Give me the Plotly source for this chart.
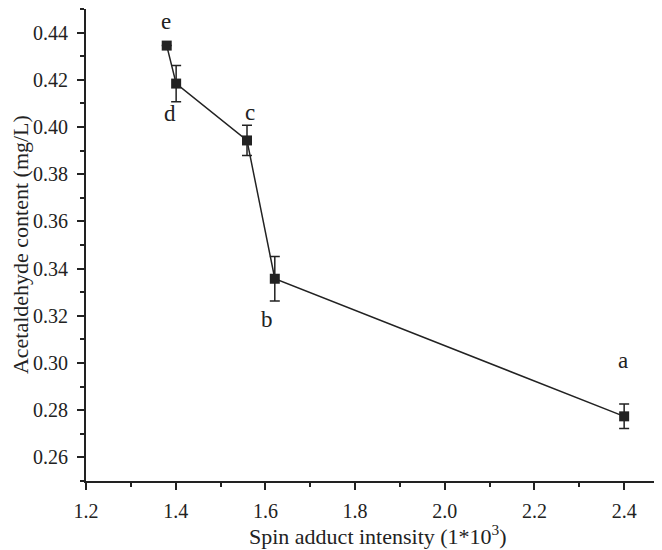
import plotly.graph_objects as go

# spin adduct intensity (1*10^3)
spin = [1.380, 1.401, 1.559, 1.621, 2.400]
# acetaldehyde content (mg/L)
acet = [0.4345, 0.4184, 0.3943, 0.3357, 0.2774]
acet_err = [0.0, 0.0077, 0.0064, 0.0094, 0.0052]
labels = ['e', 'd', 'c', 'b', 'a']

INK = '#222222'
FONT = 'Liberation Serif'

fig = go.Figure()
fig.add_trace(go.Scatter(
    x=spin,
    y=acet,
    mode='lines+markers',
    line=dict(color=INK, width=1.5),
    marker=dict(symbol='square', size=10, color=INK),
    error_y=dict(type='data', array=acet_err, visible=True,
                 color=INK, thickness=1.5, width=5),
    showlegend=False,
))

# letter labels: (dx, dy) offsets in px
offsets = [(-1, 24), (-6, -30), (3, 28), (-8, -41), (-1, 56)]
for x, y, t, (dx, dy) in zip(spin, acet, labels, offsets):
    fig.add_annotation(
        x=x, y=y, text=t, showarrow=False,
        xshift=dx, yshift=dy,
        font=dict(family=FONT, size=23, color=INK),
    )

# axis titles placed as paper annotations for tight control
fig.add_annotation(
    xref='paper', yref='paper', x=0.5, y=-0.082,
    xanchor='center', yanchor='top', showarrow=False,
    borderpad=0,
    text='Spin adduct intensity (1*10<sup>3</sup>)',
    font=dict(family=FONT, size=22, color=INK),
)
fig.add_annotation(
    xref='paper', yref='paper', x=-0.113, y=0.5,
    xanchor='center', yanchor='middle', showarrow=False,
    borderpad=0,
    textangle=-90,
    text='Acetaldehyde content (mg/L)',
    font=dict(family=FONT, size=22, color=INK),
)

axis_common = dict(
    showline=True,
    linecolor=INK,
    linewidth=2,
    ticks='outside',
    ticklen=7,
    tickwidth=2,
    tickcolor=INK,
    showgrid=False,
    zeroline=False,
    mirror=False,
    tickfont=dict(family=FONT, size=20, color=INK),
    minor=dict(ticks='outside', ticklen=4, tickwidth=2, tickcolor=INK),
)

fig.update_xaxes(
    range=[1.2, 2.5],
    tick0=1.2,
    dtick=0.2,
    tickformat='.1f',
    minor_dtick=0.1,
    ticklabelstandoff=4,
    **axis_common,
)
fig.update_yaxes(
    range=[0.25, 0.45],
    tick0=0.26,
    dtick=0.02,
    tickformat='.2f',
    minor_dtick=0.01,
    ticklabelstandoff=5,
    **axis_common,
)

fig.update_layout(
    width=662,
    height=550,
    margin=dict(l=78, r=1, t=1, b=77),
    plot_bgcolor='white',
    paper_bgcolor='white',
    font=dict(family=FONT, color=INK),
)

fig.write_html('out.html')
